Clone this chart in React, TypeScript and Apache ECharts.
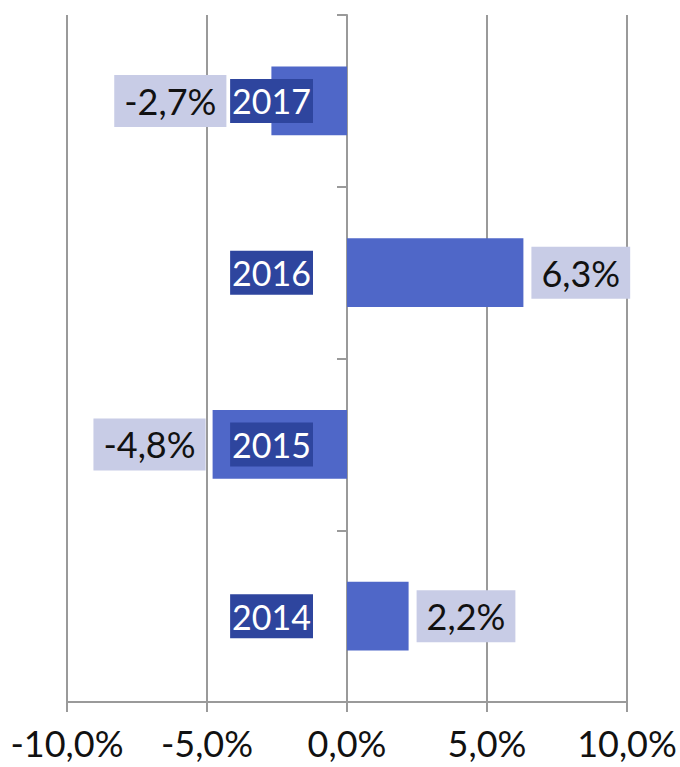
import React, { useEffect, useRef } from "react";
import * as echarts from "echarts";

const categories = ["2014", "2015", "2016", "2017"];
const values = [2.2, -4.8, 6.3, -2.7];
const labelDistances = [8, 7, 8, 45];
const xTicks = { min: -10, max: 10, interval: 5 };

const fmt = (v: number) => v.toFixed(1).replace(".", ",") + "%";

export default function App() {
  const ref = useRef<HTMLDivElement>(null);
  useEffect(() => {
    if (!ref.current) return;
    const chart = echarts.init(ref.current, undefined, { renderer: "svg" });
    const font = "Lato";
    chart.setOption({
      animation: false,
      grid: { left: 67, right: 53, top: 15, bottom: 65, containLabel: false, outerBoundsMode: "none" },
      xAxis: {
        type: "value",
        min: xTicks.min,
        max: xTicks.max,
        interval: xTicks.interval,
        axisLine: { show: true, onZero: false, lineStyle: { color: "#9a9a9a", width: 2 } },
        axisTick: { show: true, length: 10, lineStyle: { color: "#9a9a9a", width: 2 } },
        splitLine: { show: true, lineStyle: { color: "#9a9a9a", width: 2 } },
        axisLabel: {
          formatter: (v: number) => fmt(v),
          fontFamily: font,
          fontSize: 36,
          color: "#111",
          margin: 23,
        },
      },
      yAxis: {
        type: "category",
        data: categories,
        axisLine: { show: true, onZero: true, lineStyle: { color: "#9a9a9a", width: 2 } },
        axisTick: { show: true, length: 10, lineStyle: { color: "#9a9a9a", width: 2 } },
        axisLabel: { show: false },
      },
      series: [
        {
          type: "bar",
          barWidth: "40%",
          z: 2,
          data: values.map((v, i) => ({
            value: v,
            label: { position: v < 0 ? "left" : "right", distance: labelDistances[i] },
          })),
          itemStyle: { color: "#4f67c8" },
          label: {
            show: true,
            formatter: (p: any) => fmt(p.value),
            fontFamily: font,
            fontSize: 36,
            color: "#111111",
            backgroundColor: "#c8cce6",
            padding: [9, 10, 7, 10],
          },
        },
        {
          type: "scatter",
          z: 10,
          symbolSize: 0,
          silent: true,
          itemStyle: { opacity: 1 },
          data: categories.map((c) => [0, c]),
          label: {
            show: true,
            position: "left",
            distance: 34,
            opacity: 1,
            formatter: (p: any) => p.value[1],
            fontFamily: font,
            fontSize: 34,
            color: "#ffffff",
            backgroundColor: "#2e459e",
            padding: [6, 2, 4, 2],
          },
        },
      ],
    });
    return () => chart.dispose();
  }, []);
  return <div ref={ref} style={{ width: 680, height: 767, position: "absolute", left: 0, top: 0 }} />;
}
